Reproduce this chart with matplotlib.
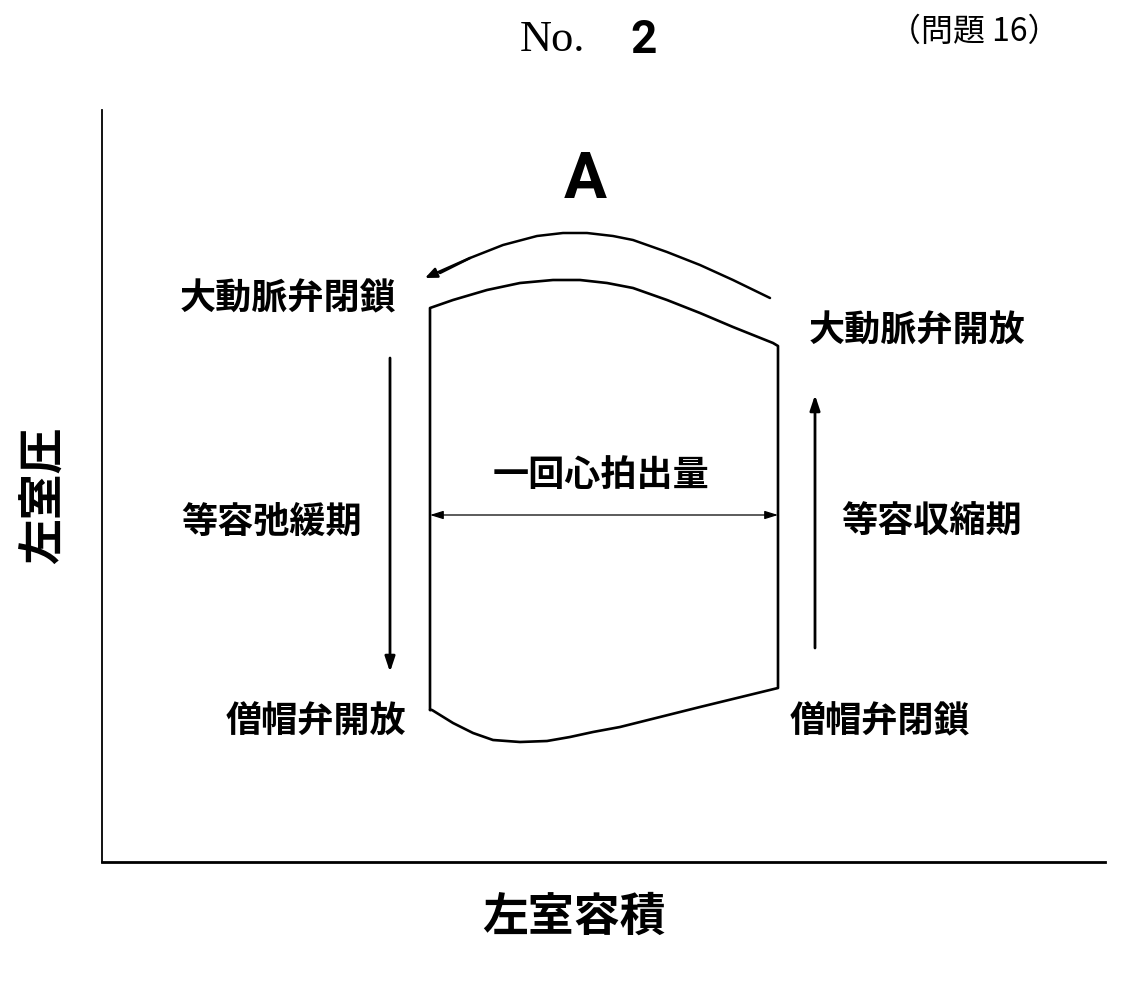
import matplotlib
matplotlib.use("Agg")
import matplotlib.pyplot as plt

plt.rcParams['font.family'] = ['Noto Sans CJK JP', 'DejaVu Sans']

# Pressure-volume loop (arbitrary units), in loop order starting at mitral valve opening
loop_volume = [328, 330, 351, 371, 391, 418, 445, 468, 491, 518, 598, 676,
               676, 671, 631, 598, 565, 531, 505, 478, 451, 418, 385, 351, 328, 328]
loop_pressure = [152, 152, 139, 129, 122, 120, 121, 125, 130, 135, 155, 174,
                 516, 519, 535, 549, 562, 574, 579, 582, 582, 579, 572, 562, 554, 152]

# Ejection arc arrow (A)
arc_volume = [668, 631, 598, 565, 531, 511, 485, 461, 435, 401, 368, 338, 323]
arc_pressure = [564, 582, 597, 610, 622, 626, 629, 629, 626, 617, 604, 589, 584]

# Isovolumic arrows and stroke volume arrow: (x_start, y_start, x_end, y_end)
relax_arrow = (288, 504, 288, 190)
contract_arrow = (713, 214, 713, 467)
stroke_arrow = (328, 347, 676, 347)

labels = ["大動脈弁閉鎖", "大動脈弁開放", "一回心拍出量", "等容弛緩期",
          "等容収縮期", "僧帽弁開放", "僧帽弁閉鎖"]
label_x = [186, 815, 499, 170, 830, 214, 778]
label_y = [563, 531, 387, 340, 340, 140, 140]

x_label = "左室容積"
y_label = "左室圧"

W, H = 1128, 994
fig = plt.figure(figsize=(W / 100, H / 100), dpi=100)
ax = fig.add_axes([102 / W, 132 / H, 1003 / W, 752 / H])
ax.set_xlim(0, 1003)
ax.set_ylim(0, 752)
ax.set_xticks([])
ax.set_yticks([])
for s in ['top', 'right']:
    ax.spines[s].set_visible(False)
ax.spines['left'].set_linewidth(1.3)
ax.spines['bottom'].set_linewidth(2.0)

# loop
ax.plot(loop_volume, loop_pressure, color='black', lw=1.9,
        solid_joinstyle='round', solid_capstyle='round')

# arc arrow
ax.plot(arc_volume[:-1], arc_pressure[:-1], color='black', lw=1.8,
        solid_joinstyle='round', solid_capstyle='round')
ax.annotate('', xy=(arc_volume[-1], arc_pressure[-1]),
            xytext=(arc_volume[-3], arc_pressure[-3]),
            arrowprops=dict(arrowstyle='-|>,head_length=0.7,head_width=0.3',
                            color='black', lw=1.8, shrinkA=0, shrinkB=0))

for (x0, y0, x1, y1) in [relax_arrow, contract_arrow]:
    ax.annotate('', xy=(x1, y1), xytext=(x0, y0),
                arrowprops=dict(arrowstyle='-|>,head_length=0.9,head_width=0.3',
                                color='black', lw=2.0, shrinkA=0, shrinkB=0))

x0, y0, x1, y1 = stroke_arrow
ax.annotate('', xy=(x1, y1), xytext=(x0, y0),
            arrowprops=dict(arrowstyle='<|-|>,head_length=0.8,head_width=0.25',
                            color='black', lw=0.9, shrinkA=0, shrinkB=0))

for t, x, y in zip(labels, label_x, label_y):
    ax.text(x, y, t, ha='center', va='center', fontsize=26,
            fontweight='bold', clip_on=False)

ax.text(483, 682, "A", ha='center', va='center', fontsize=46,
        fontweight='bold', family=['Roboto', 'DejaVu Sans'],
        clip_on=False)

fig.text(574 / W, 1 - 918 / H, x_label, ha='center', va='center',
         fontsize=33, fontweight='bold')
fig.text(45 / W, 1 - 495 / H, y_label, ha='center', va='center',
         fontsize=33, fontweight='bold', rotation=90)

fig.text(552 / W, 1 - 40 / H, "No.", ha='center', va='center',
         fontsize=32, family=['Liberation Serif', 'DejaVu Serif'])
fig.text(644 / W, 1 - 40 / H, "2", ha='center', va='center',
         fontsize=33, fontweight='bold', family=['Roboto', 'DejaVu Sans'])
fig.text(974 / W, 1 - 32 / H, "（問題 16）", ha='center', va='center',
         fontsize=23)

fig.savefig("out.png", dpi=100)
